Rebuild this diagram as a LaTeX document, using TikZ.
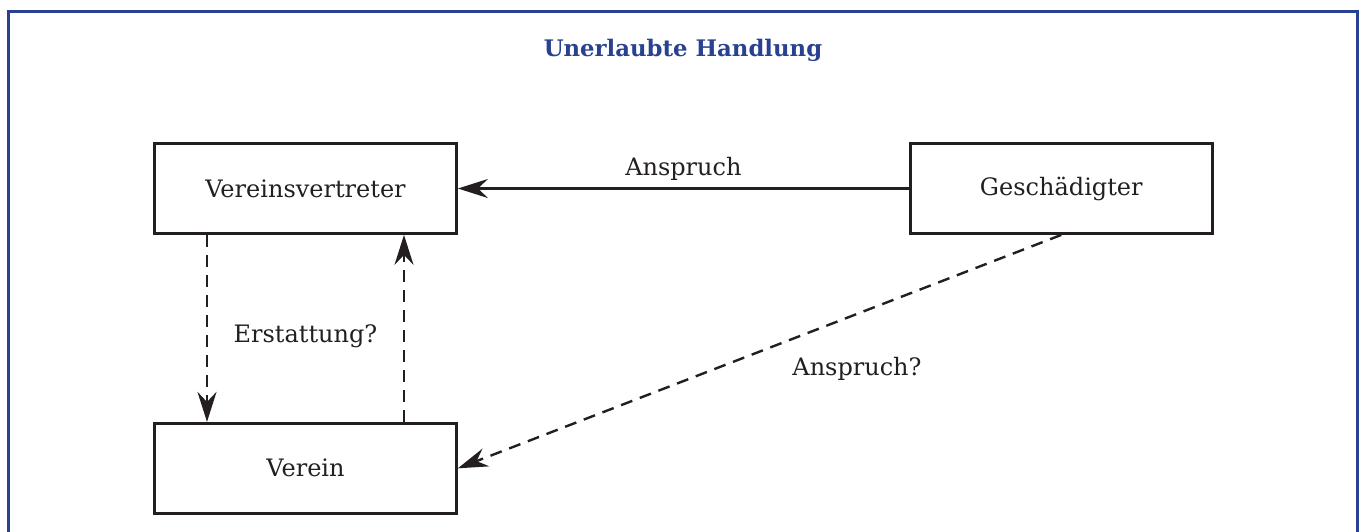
\documentclass[tikz,border=0pt]{standalone}
\usepackage{fontspec}
\setmainfont{DejaVu Serif}
\usetikzlibrary{positioning}
\usetikzlibrary{arrows.meta}
\definecolor{frameblue}{RGB}{40,65,145}
\definecolor{inkblack}{RGB}{35,31,32}

\begin{document}
\begin{tikzpicture}[x=0.5pt, y=-0.5pt,
                blacksquarednode/.style={rectangle, draw=inkblack, line width=1.4pt, minimum width=151pt, minimum height=45pt, text=inkblack, font=\fontsize{12}{14}\selectfont},
                labelnode/.style={text=inkblack, font=\fontsize{12}{14}\selectfont},
                solidarrow/.style={draw=inkblack, line width=1.2pt, -{Stealth[length=15pt, width=9.5pt, inset=5pt]}},
                dashedarrow/.style={solidarrow, dash pattern=on 6pt off 4pt},
                ]

                \useasboundingbox (0,0) rectangle (1361,531);
                \draw[frameblue, line width=1.5pt] (8.5,545) -- (8.5,11.5) -- (1357,11.5) -- (1357,545);
                \node[text=frameblue, font=\fontsize{11.4}{14}\selectfont\bfseries] (title) at (683,50) {Unerlaubte Handlung};

                \node[blacksquarednode] (vv) at (305.5,188.5) {Vereinsvertreter};
                \node[blacksquarednode, right=225.5pt of vv] (gesch) {Geschädigter};
                \node[blacksquarednode, below=93.5pt of vv] (verein) {Verein};

                \draw[solidarrow] (gesch.west) -- node[labelnode, midway, yshift=10pt] (anspruch) {Anspruch} (vv.east);
                \draw[dashedarrow] ([xshift=-49.25pt]vv.south) -- ([xshift=-49.25pt]verein.north);
                \draw[dashedarrow] ([xshift=49.25pt]verein.north) -- ([xshift=49.25pt]vv.south);
                \draw[dashedarrow] (gesch.south) -- (verein.east);

                \node[labelnode] (erstattung) at (305.5,336) {Erstattung?};
                \node[labelnode] (anspruchq) at (857,369) {Anspruch?};
            \end{tikzpicture}
\end{document}
